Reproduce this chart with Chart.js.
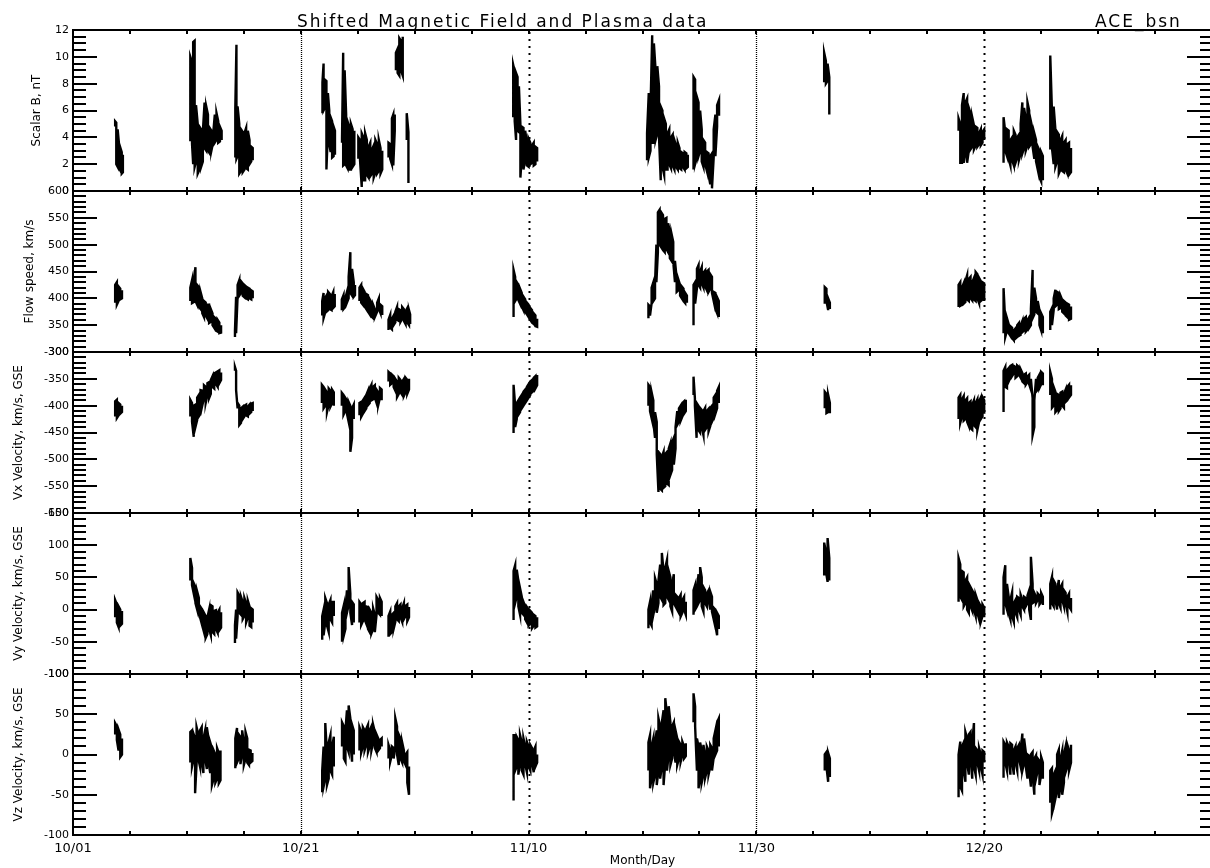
<!DOCTYPE html>
<html>
<head>
<meta charset="utf-8">
<script src="https://cdn.jsdelivr.net/npm/chart.js@4.4.1/dist/chart.umd.min.js"></script>
<style>
html,body{margin:0;padding:0;background:#fff;overflow:hidden;}
canvas{display:block;}
</style>
</head>
<body>
<canvas id="c" width="1214" height="868" style="width:1214px;height:868px"></canvas>
<script>
// ---- data (day offset from 10/01; each sample: [day, low, high] envelope) ----
const xTickDays = [0, 20, 40, 60, 80];
const xTickLabels = ['10/01', '10/21', '11/10', '11/30', '12/20'];
const panelTitles = ['Scalar B, nT', 'Flow speed, km/s', 'Vx Velocity, km/s, GSE', 'Vy Velocity, km/s, GSE', 'Vz Velocity, km/s, GSE'];
const chartTitle = 'Shifted Magnetic Field and Plasma data';
const sourceLabel = 'ACE_bsn';

const bMag = [
 [[3.70,4.8,5.2],[3.80,2.0,5.1],[3.92,1.8,4.6],[4.05,1.7,3.4],[4.17,1.5,3.2],[4.28,1.3,2.9],[4.38,1.4,2.7]],
 [[10.30,3.7,10.0],[10.45,3.5,9.6],[10.55,2.0,11.1],[10.68,1.8,11.2],[10.80,2.2,6.4],[10.95,1.3,5.0],[11.10,1.6,4.8],[11.25,1.8,4.6],[11.40,2.2,4.4],[11.55,3.2,6.6],[11.70,3.0,6.3],[11.85,3.0,5.7],[12.00,2.8,4.7],[12.15,3.0,4.5],[12.30,3.6,4.2],[12.45,3.6,5.7],[12.60,3.8,5.8],[12.75,3.6,5.2],[12.90,3.7,4.8],[13.05,3.8,4.5]],
 [[14.25,2.5,6.2],[14.35,2.4,10.9],[14.45,2.6,6.3],[14.60,1.3,5.0],[14.75,1.5,4.6],[14.90,1.4,4.4],[15.05,1.6,4.3],[15.20,1.7,4.7],[15.35,1.6,4.5],[15.50,2.0,3.8],[15.65,2.2,3.3],[15.78,2.3,3.2]],
 [[21.90,5.8,8.1],[22.00,6.0,9.5],[22.12,6.2,8.3],[22.25,1.6,8.2],[22.38,4.5,7.3],[22.50,3.5,6.0],[22.62,2.9,5.5],[22.75,2.5,5.2],[22.88,2.6,4.8],[23.00,2.7,4.5]],
 [[23.62,3.6,4.0],[23.72,1.9,10.3],[23.85,2.0,9.0],[23.98,1.9,5.7],[24.10,1.7,5.2],[24.25,1.6,4.8],[24.40,1.6,5.0],[24.55,1.8,4.6],[24.70,2.0,4.5]],
 [[25.05,2.4,4.0],[25.20,2.3,3.8],[25.35,0.3,4.3],[25.50,0.8,4.0],[25.65,0.8,4.3],[25.80,1.2,3.8],[25.95,1.0,3.3],[26.10,1.1,3.6],[26.25,1.3,3.1],[26.40,1.0,3.4],[26.55,1.4,3.8],[26.70,1.3,3.5],[26.85,1.5,3.8],[27.00,1.3,3.2],[27.15,1.6,3.0]],
 [[27.70,2.5,3.6],[27.85,2.4,3.5],[28.00,2.0,5.4],[28.12,1.9,5.7],[28.25,4.5,5.7]],
 [[28.35,9.0,10.3],[28.50,8.8,10.6],[28.65,8.6,11.4],[28.80,9.0,11.2],[28.95,8.6,11.5]],
 [[29.30,3.8,5.8],[29.45,0.6,4.4]],
 [[38.65,5.5,9.4],[38.78,5.2,8.9],[38.90,3.8,8.8],[39.03,4.5,8.5],[39.15,4.4,7.8],[39.28,1.0,5.0],[39.40,2.5,4.8],[39.55,1.6,4.7],[39.70,2.3,4.5],[39.85,1.9,3.6],[40.00,1.8,3.9],[40.15,2.0,3.6],[40.30,2.1,3.4],[40.45,1.9,3.6],[40.60,2.0,3.3],[40.75,2.2,3.2]],
 [[50.40,2.3,4.3],[50.55,2.5,7.3],[50.70,3.0,6.0],[50.85,3.6,11.6],[51.00,3.6,11.0],[51.15,3.8,9.0],[51.30,4.3,9.3],[51.45,4.0,7.8],[51.60,0.8,6.3],[51.75,1.8,6.0],[51.90,1.2,5.4],[52.05,1.6,5.0],[52.20,1.6,4.3],[52.35,2.0,4.6],[52.50,1.7,4.0],[52.65,1.9,4.2],[52.80,1.6,3.8],[52.95,1.8,3.4],[53.10,1.6,3.6],[53.25,1.7,3.2],[53.40,1.6,2.9],[53.55,1.8,2.8],[53.70,1.6,2.9],[53.85,1.7,2.8],[53.98,1.8,2.7]],
 [[54.48,1.6,8.5],[54.62,2.0,8.3],[54.78,2.5,7.0],[54.92,2.6,6.6],[55.06,3.0,6.0],[55.20,2.2,4.6],[55.35,1.8,3.8],[55.50,2.0,3.6],[55.65,1.5,2.9],[55.80,1.2,2.8],[55.95,0.5,2.6],[56.10,0.2,2.8],[56.25,2.5,4.6],[56.40,2.6,5.7],[56.55,4.8,6.4],[56.72,5.6,6.8]],
 [[65.95,8.1,10.3],[66.10,8.0,9.7],[66.25,8.2,9.5],[66.40,5.7,8.5]],
 [[77.75,4.5,5.4],[77.90,2.1,5.0],[78.05,2.1,6.4],[78.20,2.1,7.3],[78.35,2.8,6.6],[78.50,2.1,6.9],[78.65,3.0,6.2],[78.80,3.1,5.8],[78.95,3.3,5.5],[79.10,3.1,4.9],[79.25,3.4,4.8],[79.40,3.3,4.7],[79.55,3.5,4.3],[79.70,3.4,4.6],[79.85,3.6,4.4],[80.00,3.8,4.6]],
 [[81.70,2.1,5.5],[81.85,3.0,4.4],[82.00,2.6,4.6],[82.15,2.4,4.5],[82.30,1.9,3.8],[82.45,2.3,4.0],[82.60,1.9,4.5],[82.75,2.1,4.2],[82.90,2.5,4.0],[83.05,2.3,4.2],[83.20,2.8,5.0],[83.35,2.8,6.6],[83.50,3.2,6.2],[83.65,3.0,5.4],[83.80,3.4,6.6],[83.95,3.3,6.0],[84.10,3.5,5.2],[84.25,3.3,4.6],[84.40,2.4,4.3],[84.55,2.2,3.8],[84.70,1.6,3.3],[84.85,1.0,3.0],[85.00,0.7,2.9],[85.15,0.8,2.6]],
 [[85.80,3.1,10.1],[85.95,3.2,5.9],[86.10,2.0,6.3],[86.25,1.8,4.6],[86.40,2.2,4.4],[86.55,1.3,4.2],[86.70,1.6,3.8],[86.85,1.5,4.1],[87.00,1.4,3.6],[87.15,1.6,3.8],[87.30,1.3,3.5],[87.45,1.2,3.6],[87.62,1.4,3.2]]
];

const flowSpeed = [
 [[3.70,392,425],[3.85,388,430],[4.00,395,422],[4.15,398,418],[4.30,400,415]],
 [[10.30,395,420],[10.45,391,434],[10.60,393,430],[10.75,395,458],[10.90,388,425],[11.05,384,421],[11.20,380,412],[11.35,372,400],[11.50,365,395],[11.65,368,392],[11.80,362,388],[11.95,354,388],[12.10,356,380],[12.25,350,372],[12.40,345,365],[12.55,340,362],[12.70,338,360],[12.85,335,355],[13.00,336,350]],
 [[14.22,328,340],[14.32,335,403],[14.45,403,425],[14.60,405,434],[14.75,410,432],[14.90,405,428],[15.05,402,425],[15.20,400,422],[15.35,398,420],[15.50,400,418],[15.65,398,415],[15.78,400,413]],
 [[21.88,368,395],[22.00,363,410],[22.12,372,400],[22.25,375,405],[22.40,378,412],[22.55,380,408],[22.70,378,404],[22.85,382,412],[22.98,385,408]],
 [[23.60,378,398],[23.75,380,406],[23.90,384,400],[24.05,392,412],[24.20,400,440],[24.35,410,486],[24.50,405,455],[24.65,403,430],[24.76,406,425]],
 [[25.15,395,420],[25.30,392,425],[25.45,388,418],[25.60,385,412],[25.75,380,408],[25.90,375,406],[26.05,370,398],[26.20,366,392],[26.35,363,388],[26.50,365,380],[26.70,375,392],[26.85,380,400],[27.00,372,388],[27.15,369,385]],
 [[27.70,341,360],[27.85,345,369],[28.00,342,362],[28.15,350,368],[28.30,355,375],[28.45,360,384],[28.60,358,380],[28.75,356,378],[28.90,362,384],[29.05,358,380],[29.20,352,376],[29.35,355,382],[29.50,350,378],[29.60,352,370]],
 [[38.68,365,453],[38.82,395,440],[38.96,400,430],[39.10,397,425],[39.25,390,418],[39.40,385,410],[39.55,378,403],[39.70,375,398],[39.85,370,392],[40.00,365,388],[40.15,360,382],[40.30,355,378],[40.45,352,372],[40.60,348,368],[40.75,347,362]],
 [[50.52,363,388],[50.66,368,385],[50.80,391,420],[50.95,395,430],[51.10,400,428],[51.22,430,500],[51.35,486,560],[51.50,500,565],[51.65,495,560],[51.80,490,555],[51.95,486,548],[52.10,492,550],[52.25,486,540],[52.40,475,524],[52.55,470,520],[52.70,468,505],[52.85,430,470],[53.00,412,438],[53.15,415,435],[53.30,405,425],[53.45,400,422],[53.60,395,418],[53.75,391,410],[53.90,392,405]],
 [[54.48,350,425],[54.62,390,430],[54.78,419,455],[54.92,425,462],[55.06,420,450],[55.20,428,458],[55.35,420,448],[55.50,422,452],[55.65,415,450],[55.80,412,453],[55.95,418,445],[56.10,410,440],[56.25,395,412],[56.40,380,410],[56.55,372,402],[56.70,365,395]],
 [[66.00,390,421],[66.15,395,418],[66.30,378,400],[66.45,380,392]],
 [[77.75,384,425],[77.90,386,430],[78.05,388,420],[78.20,390,428],[78.35,393,432],[78.50,398,443],[78.65,395,436],[78.80,400,440],[78.95,396,430],[79.10,398,438],[79.25,395,449],[79.40,400,445],[79.55,391,438],[79.70,395,432],[79.85,398,430],[80.00,395,428]],
 [[81.70,335,419],[81.85,328,355],[82.00,340,363],[82.15,335,352],[82.30,330,348],[82.45,326,345],[82.60,322,340],[82.75,325,344],[82.90,328,350],[83.05,330,354],[83.20,332,350],[83.35,337,358],[83.50,340,362],[83.65,338,365],[83.80,342,360],[83.95,345,365],[84.10,350,380],[84.25,363,453],[84.40,370,420],[84.55,375,400],[84.70,372,395],[84.85,350,378],[85.00,340,372],[85.15,335,365]],
 [[85.80,341,375],[85.95,350,382],[86.10,378,400],[86.25,385,416],[86.40,388,412],[86.55,380,410],[86.70,382,405],[86.85,375,397],[87.00,372,395],[87.15,368,392],[87.30,365,390],[87.45,360,388],[87.62,362,385]]
];

const vxGse = [
 [[3.70,-420,-392],[3.85,-423,-389],[4.00,-418,-395],[4.15,-415,-398],[4.30,-412,-400]],
 [[10.30,-420,-389],[10.45,-430,-395],[10.60,-458,-400],[10.75,-440,-398],[10.90,-427,-385],[11.05,-420,-380],[11.20,-415,-371],[11.35,-400,-372],[11.50,-386,-362],[11.65,-395,-365],[11.80,-380,-358],[11.95,-386,-356],[12.10,-378,-352],[12.25,-365,-345],[12.40,-368,-340],[12.55,-360,-338],[12.70,-365,-336],[12.85,-358,-334],[13.00,-352,-338]],
 [[14.22,-335,-328],[14.32,-371,-335],[14.45,-405,-395],[14.60,-436,-400],[14.75,-432,-405],[14.90,-425,-402],[15.05,-420,-400],[15.20,-418,-398],[15.35,-420,-402],[15.50,-415,-398],[15.65,-412,-396],[15.78,-410,-395]],
 [[21.85,-395,-361],[22.00,-405,-365],[22.15,-400,-370],[22.30,-412,-375],[22.45,-398,-368],[22.60,-402,-372],[22.75,-395,-370],[22.90,-400,-375]],
 [[23.60,-400,-376],[23.75,-417,-380],[23.90,-410,-385],[24.05,-415,-390],[24.20,-430,-393],[24.35,-486,-400],[24.50,-460,-405],[24.65,-425,-398]],
 [[25.15,-418,-395],[25.30,-421,-393],[25.45,-415,-390],[25.60,-410,-385],[25.75,-405,-380],[25.90,-399,-372],[26.05,-395,-368],[26.20,-390,-361],[26.35,-388,-365],[26.50,-385,-362],[26.65,-395,-370],[26.80,-399,-375],[26.95,-385,-367],[27.10,-390,-370]],
 [[27.70,-355,-337],[27.85,-361,-340],[28.00,-358,-342],[28.15,-365,-345],[28.30,-372,-350],[28.45,-384,-355],[28.60,-378,-348],[28.75,-375,-352],[28.90,-380,-355],[29.05,-382,-350],[29.20,-375,-348],[29.35,-378,-352],[29.50,-370,-350]],
 [[38.68,-451,-361],[38.82,-440,-400],[38.96,-425,-395],[39.10,-417,-390],[39.25,-412,-385],[39.40,-405,-380],[39.55,-400,-374],[39.70,-395,-370],[39.85,-390,-365],[40.00,-385,-360],[40.15,-380,-355],[40.30,-375,-352],[40.45,-372,-348],[40.60,-368,-345],[40.75,-362,-343]],
 [[50.52,-400,-361],[50.66,-410,-365],[50.80,-423,-375],[50.95,-430,-390],[51.10,-460,-412],[51.25,-490,-430],[51.40,-561,-486],[51.55,-555,-490],[51.70,-558,-495],[51.85,-553,-486],[52.00,-550,-490],[52.15,-545,-486],[52.30,-548,-480],[52.45,-529,-470],[52.60,-520,-468],[52.75,-510,-460],[52.90,-480,-440],[53.05,-436,-410],[53.20,-430,-405],[53.35,-428,-400],[53.50,-420,-395],[53.65,-415,-392],[53.80,-410,-389]],
 [[54.48,-380,-346],[54.60,-400,-386],[54.75,-460,-395],[54.90,-445,-400],[55.05,-450,-404],[55.20,-440,-408],[55.35,-455,-410],[55.50,-445,-404],[55.65,-440,-410],[55.80,-448,-406],[55.95,-438,-404],[56.10,-430,-400],[56.25,-423,-385],[56.40,-415,-380],[56.55,-405,-372],[56.70,-395,-365]],
 [[66.00,-405,-374],[66.15,-414,-378],[66.30,-412,-380],[66.45,-414,-395]],
 [[77.75,-425,-385],[77.90,-432,-380],[78.05,-420,-388],[78.20,-428,-382],[78.35,-425,-390],[78.50,-430,-386],[78.65,-438,-395],[78.80,-442,-392],[78.95,-445,-398],[79.10,-436,-390],[79.25,-440,-395],[79.40,-445,-388],[79.55,-430,-392],[79.70,-425,-385],[79.85,-420,-384],[80.00,-415,-390]],
 [[81.70,-412,-335],[81.85,-365,-328],[82.00,-367,-334],[82.15,-355,-330],[82.30,-348,-326],[82.45,-345,-324],[82.60,-340,-326],[82.75,-348,-328],[82.90,-345,-325],[83.05,-342,-328],[83.20,-348,-332],[83.35,-355,-339],[83.50,-358,-342],[83.65,-361,-340],[83.80,-356,-345],[83.95,-360,-342],[84.10,-370,-350],[84.25,-455,-386],[84.40,-440,-390],[84.55,-374,-350],[84.70,-370,-348],[84.85,-367,-342],[85.00,-360,-337],[85.15,-362,-340]],
 [[85.80,-380,-337],[85.95,-404,-350],[86.10,-400,-365],[86.25,-412,-374],[86.40,-408,-378],[86.55,-410,-380],[86.70,-405,-376],[86.85,-400,-374],[87.00,-404,-378],[87.15,-393,-370],[87.30,-390,-365],[87.45,-385,-361],[87.62,-380,-362]]
];

const vyGse = [
 [[3.70,-12,15],[3.85,-20,8],[4.00,-27,5],[4.15,-25,0],[4.30,-22,-2]],
 [[10.30,45,80],[10.45,38,65],[10.60,25,41],[10.75,10,35],[10.90,0,28],[11.05,-5,18],[11.20,-15,4],[11.35,-25,0],[11.50,-35,-5],[11.65,-44,-10],[11.80,-38,-12],[11.95,-30,0],[12.10,-40,7],[12.25,-35,5],[12.40,-38,-2],[12.55,-30,-1],[12.70,-36,-5],[12.85,-32,0],[13.00,-28,-4]],
 [[14.22,-52,-24],[14.32,-45,0],[14.45,-11,27],[14.60,-5,22],[14.75,-8,20],[14.90,-15,12],[15.05,-10,18],[15.20,-20,10],[15.35,-12,14],[15.50,-25,5],[15.65,-27,2],[15.78,-20,0]],
 [[21.88,-47,-10],[22.00,-40,0],[22.15,-20,18],[22.30,-25,10],[22.45,-35,8],[22.60,-15,15],[22.75,-20,12],[22.90,-10,12]],
 [[23.62,-50,-5],[23.78,-40,7],[23.92,-30,0],[24.05,-5,30],[24.20,7,66],[24.35,-5,25],[24.50,-24,12],[24.65,-20,8]],
 [[25.15,-20,12],[25.30,-24,8],[25.45,-18,10],[25.60,-15,12],[25.75,-22,5],[25.90,-30,4],[26.05,-35,0],[26.20,-37,-5],[26.35,-30,2],[26.50,-35,-8],[26.65,-8,20],[26.80,-5,15],[26.95,-8,18],[27.10,-10,12]],
 [[27.70,-42,-10],[27.85,-38,-3],[28.00,-35,-8],[28.15,-30,-5],[28.30,-19,5],[28.45,-15,10],[28.60,-18,5],[28.75,-12,8],[28.90,-19,2],[29.05,-15,10],[29.20,-10,6],[29.35,-18,8],[29.50,-12,4]],
 [[38.68,-16,60],[38.82,10,69],[38.96,20,62],[39.10,5,45],[39.25,-8,33],[39.40,-5,20],[39.55,-8,12],[39.70,-15,5],[39.85,-20,4],[40.00,-25,0],[40.15,-22,-2],[40.30,-29,-5],[40.45,-25,-8],[40.60,-28,-10],[40.75,-26,-12]],
 [[50.52,-29,0],[50.66,-20,12],[50.80,-25,5],[50.95,-8,30],[51.10,5,49],[51.25,-5,40],[51.40,10,45],[51.55,20,70],[51.70,15,88],[51.85,7,60],[52.00,10,65],[52.15,20,77],[52.30,15,60],[52.45,5,50],[52.60,-3,40],[52.75,10,55],[52.90,5,23],[53.05,0,20],[53.20,-5,18],[53.35,-11,23],[53.50,-5,15],[53.65,0,20],[53.80,-8,12]],
 [[54.48,-8,30],[54.62,0,38],[54.78,5,30],[54.92,10,55],[55.06,15,66],[55.20,5,50],[55.35,-3,35],[55.50,10,30],[55.65,5,25],[55.80,15,30],[55.95,0,28],[56.10,-3,20],[56.25,-15,3],[56.40,-25,0],[56.55,-40,-5],[56.70,-30,-10]],
 [[65.95,53,104],[66.10,60,90],[66.25,43,111],[66.40,45,80]],
 [[77.75,12,80],[77.90,20,70],[78.05,15,60],[78.20,5,58],[78.35,10,45],[78.50,0,50],[78.65,-5,40],[78.80,5,35],[78.95,-2,30],[79.10,0,25],[79.25,-10,23],[79.40,-5,15],[79.55,-15,10],[79.70,-19,5],[79.85,-10,8],[80.00,-12,3]],
 [[81.70,-8,50],[81.85,10,69],[82.00,0,40],[82.15,-5,20],[82.30,-15,15],[82.45,-10,27],[82.60,-19,10],[82.75,-5,15],[82.90,-12,20],[83.05,0,18],[83.20,-8,23],[83.35,5,15],[83.50,0,20],[83.65,5,18],[83.80,10,22],[83.95,0,30],[84.10,-16,82],[84.25,10,40],[84.40,12,26],[84.55,10,20],[84.70,15,25],[84.85,8,22],[85.00,12,26],[85.15,7,20]],
 [[85.80,0,40],[85.95,10,51],[86.10,5,45],[86.25,15,40],[86.40,0,30],[86.55,10,46],[86.70,3,35],[86.85,15,40],[87.00,5,30],[87.15,10,26],[87.30,-3,20],[87.45,5,25],[87.62,0,18]]
];

const vzGse = [
 [[3.70,25,39],[3.85,18,35],[4.00,5,31],[4.15,-3,25],[4.30,0,20]],
 [[10.30,-10,28],[10.45,-15,30],[10.60,-5,25],[10.72,-48,20],[10.85,-11,34],[11.00,-5,25],[11.15,-15,30],[11.30,-10,34],[11.45,-23,20],[11.60,-5,30],[11.75,-18,34],[11.90,-10,20],[12.05,-23,15],[12.20,-38,8],[12.35,-30,5],[12.50,-35,0],[12.65,-30,8],[12.80,-36,2],[12.95,-32,5]],
 [[14.25,-17,20],[14.40,-10,33],[14.55,-5,25],[14.70,-12,22],[14.85,0,30],[15.00,-13,15],[15.15,-5,28],[15.30,-10,20],[15.45,-13,6],[15.60,-10,5],[15.75,-8,2]],
 [[21.88,-47,-20],[22.00,-40,10],[22.15,-30,39],[22.30,-38,0],[22.45,-30,15],[22.60,-20,24],[22.75,-25,10],[22.90,-15,22]],
 [[23.62,10,40],[23.78,-5,35],[23.92,-9,30],[24.05,10,55],[24.20,3,61],[24.35,15,45],[24.50,-9,37],[24.65,0,30]],
 [[25.15,5,34],[25.30,2,28],[25.45,10,34],[25.60,5,30],[25.75,12,32],[25.90,3,37],[26.05,10,30],[26.20,5,35],[26.35,15,37],[26.50,8,28],[26.65,3,25],[26.80,5,20],[26.95,8,18],[27.10,10,20]],
 [[27.70,-5,12],[27.85,-9,5],[28.00,0,10],[28.15,-5,8],[28.30,10,45],[28.45,0,35],[28.60,-13,25],[28.75,-5,20],[28.90,-10,15],[29.05,-8,5],[29.20,-13,0],[29.35,-35,3],[29.50,-50,-15]],
 [[38.68,-57,24],[38.82,-20,24],[38.96,-15,22],[39.10,-25,18],[39.25,-10,24],[39.40,-20,15],[39.55,-25,20],[39.70,-12,10],[39.85,-22,16],[40.00,-15,10],[40.15,-20,12],[40.30,-10,8],[40.45,-22,5],[40.60,-15,10],[40.75,-10,0]],
 [[50.52,-20,15],[50.66,-42,24],[50.80,-30,10],[50.95,-35,20],[51.10,-25,15],[51.25,-38,30],[51.40,-20,45],[51.55,-30,35],[51.70,-15,40],[51.85,-38,55],[52.00,-10,70],[52.15,-20,50],[52.30,0,60],[52.45,-13,40],[52.60,-5,35],[52.75,5,40],[52.90,-10,30],[53.05,-13,20],[53.20,-5,16],[53.35,-9,12],[53.50,0,16],[53.65,-5,10],[53.80,-2,14]],
 [[54.48,40,76],[54.62,35,60],[54.78,-20,20],[54.92,-42,10],[55.06,-30,15],[55.20,-35,5],[55.35,-25,12],[55.50,-29,0],[55.65,-20,10],[55.80,-25,5],[55.95,-15,12],[56.10,-20,8],[56.25,-4,20],[56.40,0,30],[56.55,5,40],[56.70,10,45]],
 [[66.00,-20,0],[66.15,-15,3],[66.30,-34,2],[66.45,-28,-5]],
 [[77.75,-53,0],[77.90,-40,16],[78.05,-45,10],[78.20,-20,15],[78.35,-34,28],[78.50,-10,20],[78.65,-25,25],[78.80,-5,28],[78.95,-30,15],[79.10,-15,39],[79.25,-25,8],[79.40,-10,5],[79.55,-20,8],[79.70,-15,0],[79.85,-25,5],[80.00,-10,3]],
 [[81.70,-29,16],[81.85,-10,12],[82.00,-20,15],[82.15,-5,10],[82.30,-25,14],[82.45,-8,12],[82.60,-25,5],[82.75,-10,10],[82.90,-20,8],[83.05,-5,12],[83.20,-15,5],[83.35,-20,26],[83.50,-10,20],[83.65,-15,3],[83.80,-30,0],[83.95,-20,-2],[84.10,-40,0],[84.25,-25,3],[84.40,-50,-5],[84.55,-30,-1],[84.70,-20,-5],[84.85,-38,-8],[85.00,-25,-3],[85.15,-30,-10]],
 [[85.80,-60,-20],[85.95,-73,-17],[86.10,-65,-25],[86.25,-55,-20],[86.40,-45,0],[86.55,-54,6],[86.70,-40,-5],[86.85,-50,5],[87.00,-35,0],[87.15,-22,10],[87.30,-15,12],[87.45,-20,5],[87.62,-10,12]]
];

// ---- build line points: each envelope sample becomes a vertical stroke low<->high ----
function toPoints(segs) {
  const pts = [];
  segs.forEach(seg => {
    seg.forEach(([d, lo, hi], i) => {
      if (i % 2 === 0) { pts.push({x: d, y: lo}); pts.push({x: d, y: hi}); }
      else { pts.push({x: d, y: hi}); pts.push({x: d, y: lo}); }
    });
    pts.push({x: seg[seg.length - 1][0] + 0.01, y: null});
  });
  return pts;
}

const panels = [
  {id: 'yB',  data: bMag,      min: 0,    max: 12,   step: 2,  minor: 0.5, titlePad: 30},
  {id: 'yV',  data: flowSpeed, min: 300,  max: 600,  step: 50, minor: 10,  titlePad: 23},
  {id: 'yVx', data: vxGse,     min: -600, max: -300, step: 50, minor: 10,  titlePad: 12},
  {id: 'yVy', data: vyGse,     min: -100, max: 150,  step: 50, minor: 10,  titlePad: 12},
  {id: 'yVz', data: vzGse,     min: -100, max: 100,  step: 50, minor: 10,  titlePad: 12}
];

const scales = {
  x: {
    type: 'linear', min: 0, max: 100, position: 'bottom',
    grid: {display: false, drawTicks: false}, border: {display: false},
    ticks: {
      stepSize: 20, autoSkip: false, maxRotation: 0, padding: 6,
      font: {size: 13, family: 'DejaVu Sans'}, color: '#000',
      callback: v => { const i = xTickDays.indexOf(v); return i >= 0 ? xTickLabels[i] : null; }
    },
    title: {display: true, text: 'Month/Day', font: {size: 12, family: 'DejaVu Sans'}, color: '#000', padding: {top: 0, bottom: 0}},
    afterFit: s => { s.height = 33; }
  }
};
panels.forEach((p, k) => {
  scales[p.id] = {
    type: 'linear', position: 'left', stack: 'panels', stackWeight: 1, weight: 5 - k,
    min: p.min, max: p.max,
    grid: {display: false, drawTicks: false}, border: {display: false},
    ticks: {stepSize: p.step, autoSkip: false, padding: 4, font: {size: 11, family: 'DejaVu Sans'}, color: '#000',
            callback: v => String(v)},
    title: {display: true, text: panelTitles[k], font: {size: 12, family: 'DejaVu Sans'}, color: '#000',
            padding: {top: p.titlePad, bottom: 0}},
    afterFit: s => { s.width = 73; }
  };
});

const idlFrame = {
  id: 'idlFrame',
  beforeDatasetsDraw(chart) {
    const {ctx, chartArea: a} = chart;
    const xs = chart.scales.x;
    ctx.save();
    ctx.strokeStyle = '#000';
    // dotted day markers
    [[20, [1, 1], 1.3], [40, [2, 5], 2], [60, [1, 1], 1.3], [80, [2, 5], 2]].forEach(([d, dash, w]) => {
      const px = Math.round(xs.getPixelForValue(d)) + 0.5;
      ctx.setLineDash(dash); ctx.lineWidth = w;
      ctx.beginPath(); ctx.moveTo(px, a.top + 2); ctx.lineTo(px, a.bottom); ctx.stroke();
    });
    ctx.setLineDash([]);
    ctx.lineWidth = 2;
    panels.forEach(p => {
      const s = chart.scales[p.id];
      // frame
      ctx.beginPath();
      ctx.moveTo(a.left, Math.round(s.top)); ctx.lineTo(a.right, Math.round(s.top));
      ctx.moveTo(a.left, Math.round(s.bottom)); ctx.lineTo(a.right, Math.round(s.bottom));
      ctx.stroke();
      // y ticks (major long, minor short), both sides
      const n = Math.round((p.max - p.min) / p.minor);
      const per = Math.round(p.step / p.minor);
      ctx.beginPath();
      for (let i = 1; i < n; i++) {
        const v = p.min + i * p.minor;
        const y = Math.round(s.getPixelForValue(v));
        const major = i % per === 0;
        const lenL = major ? 24 : 13, lenR = major ? 25 : 12;
        ctx.moveTo(a.left, y); ctx.lineTo(a.left + lenL, y);
        ctx.moveTo(a.right, y); ctx.lineTo(a.right - lenR, y);
      }
      ctx.stroke();
      // x ticks every 5 days
      ctx.beginPath();
      for (let d = 5; d < 100; d += 5) {
        const px = Math.round(xs.getPixelForValue(d));
        ctx.moveTo(px, s.top); ctx.lineTo(px, s.top + 4);
        ctx.moveTo(px, s.bottom); ctx.lineTo(px, s.bottom - 4);
      }
      ctx.stroke();
    });
    ctx.beginPath();
    ctx.moveTo(a.left, a.top - 1); ctx.lineTo(a.left, a.bottom + 1);
    ctx.moveTo(a.right, a.top - 1); ctx.lineTo(a.right, a.bottom + 1);
    ctx.stroke();
    ctx.restore();
  },
  afterDraw(chart) {
    const ctx = chart.ctx;
    ctx.save();
    ctx.fillStyle = '#000';
    ctx.font = '17px "DejaVu Sans"';
    if ('letterSpacing' in ctx) ctx.letterSpacing = '2px';
    ctx.textBaseline = 'alphabetic';
    ctx.textAlign = 'left';
    ctx.fillText(chartTitle, 297, 27);
    ctx.fillText(sourceLabel, 1095, 27);
    ctx.restore();
  }
};

new Chart(document.getElementById('c'), {
  type: 'line',
  data: {
    datasets: panels.map(p => ({
      data: toPoints(p.data), yAxisID: p.id, xAxisID: 'x',
      borderColor: '#000', borderWidth: 2.4, pointRadius: 0, tension: 0, spanGaps: false, fill: false
    }))
  },
  options: {
    responsive: false, animation: false, devicePixelRatio: 1,
    layout: {padding: {top: 30, left: 0, right: 2, bottom: 0}},
    plugins: {legend: {display: false}, tooltip: {enabled: false}, title: {display: false}},
    scales: scales
  },
  plugins: [idlFrame]
});
</script>
</body>
</html>
